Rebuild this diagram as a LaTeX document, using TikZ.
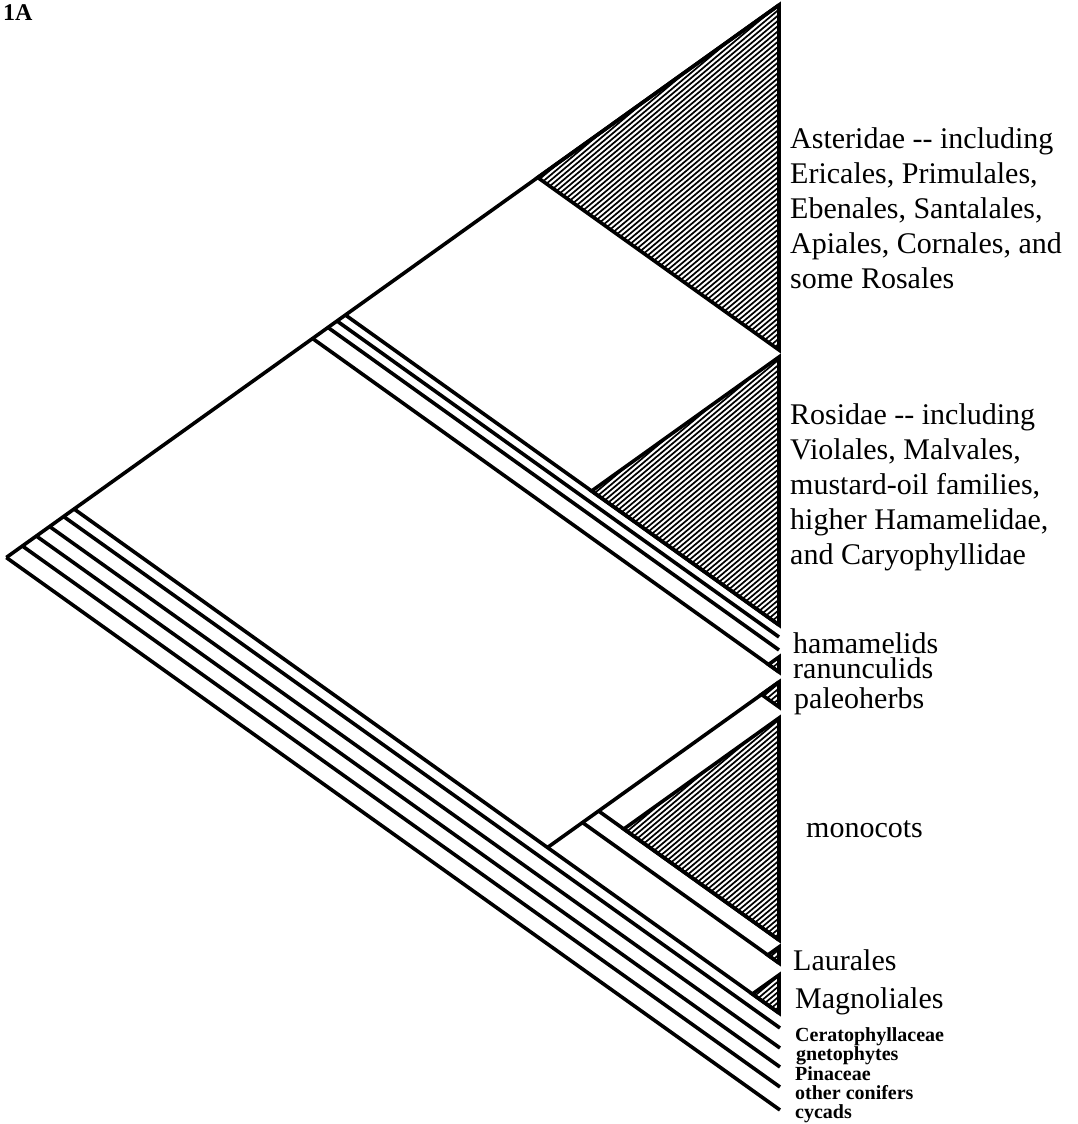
\documentclass[tikz,border=0pt]{standalone}
\usepackage{fontspec}
\setmainfont{Liberation Serif}
\begin{document}
\begin{tikzpicture}[x=1pt,y=-1pt,
  branch/.style={line width=3.6pt, line join=miter, line cap=butt},
  hatchline/.style={line width=1.7pt},
  biglab/.style={inner sep=0pt, anchor=base west, font=\fontsize{30}{35}\selectfont},
  paralab/.style={inner sep=0pt, anchor=north west, align=left, font=\fontsize{30}{35}\selectfont},
  smalllab/.style={inner sep=0pt, anchor=base west, font=\bfseries\fontsize{20}{20}\selectfont}]
\useasboundingbox (0,0) rectangle (1078,1124);
% internal nodes
\coordinate (R)  at (6.3,557.5);
\coordinate (N1) at (22.4,546);
\coordinate (N2) at (36.3,536);
\coordinate (N3) at (49.6,526.5);
\coordinate (N4) at (63.6,516.5);
\coordinate (N5) at (74.1,509);
\coordinate (E)  at (312.6,338.5);
\coordinate (HB) at (328,327.5);
\coordinate (HA) at (337,321);
\coordinate (AR) at (345.4,315);
\coordinate (P)  at (547.5,847.5);
\coordinate (Q)  at (582.5,822.5);
\coordinate (M)  at (598.6,811);
% triangle vertices
\coordinate (AstV) at (537.7,177.5);
\coordinate (RosV) at (591.6,491);
\coordinate (RanV) at (768.5,664.5);
\coordinate (PalV) at (761.5,694.5);
\coordinate (MonV) at (623.8,829);
\coordinate (LauV) at (767.8,955);
\coordinate (MagV) at (752.4,994);
% tips
\coordinate (AstT) at (779,5);
\coordinate (AstB) at (779,350);
\coordinate (RosT) at (779,357);
\coordinate (RosB) at (779,625);
\coordinate (HamA) at (779,637);
\coordinate (HamB) at (779,650);
\coordinate (RanT) at (779,657);
\coordinate (RanB) at (779,672);
\coordinate (PalT) at (779,682);
\coordinate (PalB) at (779,707);
\coordinate (MonT) at (779,718);
\coordinate (MonB) at (779,940);
\coordinate (LauT) at (779,947);
\coordinate (LauB) at (779,963);
\coordinate (MagT) at (779,975);
\coordinate (MagB) at (779,1013);
\coordinate (Cer) at (780,1028);
\coordinate (Gne) at (780,1048);
\coordinate (Pin) at (780,1067);
\coordinate (Oth) at (780,1087);
\coordinate (Cyc) at (780,1110);
% hatching
\begin{scope}
\clip (AstV) -- (AstT) -- (AstB) -- cycle
      (RosV) -- (RosT) -- (RosB) -- cycle
      (RanV) -- (RanT) -- (RanB) -- cycle
      (PalV) -- (PalT) -- (PalB) -- cycle
      (MonV) -- (MonT) -- (MonB) -- cycle
      (LauV) -- (LauT) -- (LauB) -- cycle
      (MagV) -- (MagT) -- (MagB) -- cycle;
\foreach \c in {340,344,...,1292}
  \draw[hatchline] (520,{(\c-334.26)/0.766}) -- (800,{(\c-514.24)/0.766});
\end{scope}
% branches
\draw[branch] (R) -- (AstV) -- (AstT);
\draw[branch] (R) -- (Cyc);
\draw[branch] (N1) -- (Oth);
\draw[branch] (N2) -- (Pin);
\draw[branch] (N3) -- (Gne);
\draw[branch] (N4) -- (Cer);
\draw[branch] (N5) -- (P) -- (MagV) -- (MagB);
\draw[branch] (P) -- (Q) -- (M) -- (PalV) -- (PalT);
\draw[branch] (Q) -- (LauV) -- (LauB);
\draw[branch] (M) -- (MonV) -- (MonB);
\draw[branch] (E) -- (RanV) -- (RanB);
\draw[branch] (HB) -- (HamB);
\draw[branch] (HA) -- (HamA);
\draw[branch] (AR) -- (RosV) -- (RosB);
% triangle outlines
\draw[branch] (AstV) -- (AstT) -- (AstB) -- cycle;
\draw[branch] (RosV) -- (RosT) -- (RosB) -- cycle;
\draw[branch] (RanV) -- (RanT) -- (RanB) -- cycle;
\draw[branch] (PalV) -- (PalT) -- (PalB) -- cycle;
\draw[branch] (MonV) -- (MonT) -- (MonB) -- cycle;
\draw[branch] (LauV) -- (LauT) -- (LauB) -- cycle;
\draw[branch] (MagV) -- (MagT) -- (MagB) -- cycle;
% labels
\node[inner sep=0pt, anchor=base west, font=\bfseries\fontsize{24}{24}\selectfont] (fig) at (3,21) {1A};
\node[paralab] (ast) at (790,127) {Asteridae -{}- including\\Ericales, Primulales,\\Ebenales, Santalales,\\Apiales, Cornales, and\\some Rosales};
\node[paralab] (ros) at (790,403) {Rosidae -{}- including\\Violales, Malvales,\\mustard-oil families,\\higher Hamamelidae,\\and Caryophyllidae};
\node[biglab] (ham) at (793,653) {hamamelids};
\node[biglab] (ran) at (793,678) {ranunculids};
\node[biglab] (pal) at (794,708) {paleoherbs};
\node[biglab] (mon) at (806,837) {monocots};
\node[biglab] (lau) at (793,970) {Laurales};
\node[biglab] (mag) at (795,1008) {Magnoliales};
\node[smalllab] (cer) at (795,1041) {Ceratophyllaceae};
\node[smalllab] (gne) at (796,1060) {gnetophytes};
\node[smalllab] (pin) at (795,1080) {Pinaceae};
\node[smalllab] (oth) at (795,1099) {other conifers};
\node[smalllab] (cyc) at (795,1118) {cycads};
\end{tikzpicture}
\end{document}
